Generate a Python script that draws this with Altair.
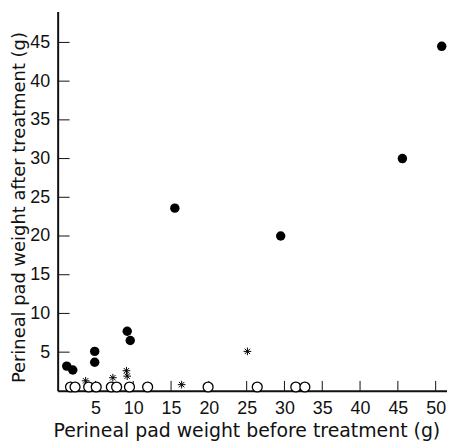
import altair as alt
import pandas as pd

# Data
filled_x = [1.2, 2.0, 4.9, 4.9, 9.2, 9.6, 15.5, 29.5, 45.6, 50.8]
filled_y = [3.2, 2.7, 5.1, 3.7, 7.7, 6.5, 23.6, 20.0, 30.0, 44.5]

open_x = [1.7, 2.3, 4.1, 5.1, 7.1, 7.8, 9.5, 11.9, 19.9, 26.4, 31.5, 32.7]
open_y = [0.5, 0.5, 0.5, 0.5, 0.5, 0.5, 0.5, 0.5, 0.5, 0.5, 0.5, 0.5]

star_x = [3.7, 7.3, 9.1, 9.2, 16.4, 25.1]
star_y = [1.3, 1.7, 2.6, 1.9, 0.8, 5.1]

x_ticks = [5, 10, 15, 20, 25, 30, 35, 40, 45, 50]
y_ticks = [5, 10, 15, 20, 25, 30, 35, 40, 45]

W = 392
H = 382
FONT = "Liberation Sans"
TFONT = "DejaVu Sans"

xscale = alt.Scale(domain=[0, 51.5], nice=False, zero=True)
yscale = alt.Scale(domain=[0, 49], nice=False, zero=True)

xaxis = alt.Axis(values=x_ticks, title="Perineal pad weight before treatment (g)",
                 grid=False, ticks=False, labelPadding=9, labelFontSize=18,
                 labelFont=FONT, labelColor="#111", titleFont=TFONT, titleFontSize=19,
                 titleFontWeight="normal", titleColor="#111", domainColor="#111",
                 domainWidth=2, titleX=190, titleY=40, titleBaseline="middle")
yaxis = alt.Axis(values=y_ticks, title="Perineal pad weight after treatment (g)",
                 grid=False, ticks=False, labelPadding=8, labelFontSize=18,
                 labelFont=FONT, labelColor="#111", titleFont=TFONT, titleFontSize=18,
                 titleFontWeight="normal", titleColor="#111", domainColor="#111",
                 domainWidth=2, titleX=-33, titleY=197, titleBaseline="alphabetic")

df_f = pd.DataFrame({"x": filled_x, "y": filled_y})
df_o = pd.DataFrame({"x": open_x, "y": open_y})
df_s = pd.DataFrame({"x": star_x, "y": star_y})
df_xt = pd.DataFrame({"v": x_ticks})
df_yt = pd.DataFrame({"v": y_ticks})

base_axes = alt.Chart(df_f).mark_point(opacity=0).encode(
    x=alt.X("x:Q", scale=xscale, axis=xaxis),
    y=alt.Y("y:Q", scale=yscale, axis=yaxis),
)

ytick_rules = alt.Chart(df_yt).mark_rule(color="#111", strokeWidth=1).encode(
    y=alt.Y("v:Q", scale=yscale), x=alt.value(0), x2=alt.value(12)
)
xtick_rules = alt.Chart(df_xt).mark_rule(color="#111", strokeWidth=1).encode(
    x=alt.X("v:Q", scale=xscale), y=alt.value(H - 10), y2=alt.value(H)
)

filled = alt.Chart(df_f).mark_circle(color="black", size=90, opacity=1).encode(
    x=alt.X("x:Q", scale=xscale), y=alt.Y("y:Q", scale=yscale)
)
opened = alt.Chart(df_o).mark_point(shape="circle", filled=True, fill="white",
                                    stroke="black", strokeWidth=1.3, size=100,
                                    opacity=1).encode(
    x=alt.X("x:Q", scale=xscale), y=alt.Y("y:Q", scale=yscale)
)
ast_path = "M-1,0L1,0M0,-1L0,1M-0.7,-0.7L0.7,0.7M-0.7,0.7L0.7,-0.7"
stars = alt.Chart(df_s).mark_point(shape=ast_path, filled=False, stroke="black",
                                   strokeWidth=1, size=60, opacity=1).encode(
    x=alt.X("x:Q", scale=xscale), y=alt.Y("y:Q", scale=yscale)
)

chart = alt.layer(base_axes, ytick_rules, xtick_rules, stars, filled, opened).properties(
    width=W, height=H,
    autosize=alt.AutoSizeParams(type="none"),
    padding={"left": 50, "top": 2, "right": 0, "bottom": 50},
    background="white",
).configure_view(stroke=None)

chart.save("out.html", embed_options={"renderer": "svg", "actions": False})
